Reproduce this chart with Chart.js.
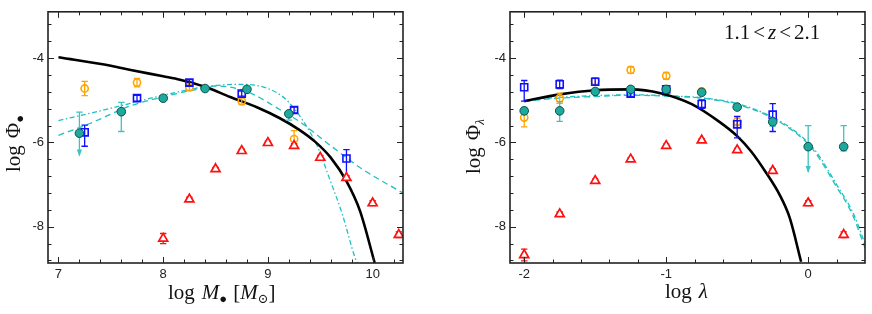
<!DOCTYPE html>
<html><head><meta charset="utf-8">
<script src="https://cdn.jsdelivr.net/npm/chart.js@4.4.1/dist/chart.umd.min.js"></script>
<style>
html,body{margin:0;padding:0;background:#fff;}
#wrap{position:relative;width:872px;height:314px;overflow:hidden;}
.c{position:absolute;top:0;width:436px;height:314px;}
</style></head><body>
<div id="wrap">
<div class="c" style="left:0"><canvas id="cL" width="436" height="314"></canvas></div>
<div class="c" style="left:436px"><canvas id="cR" width="436" height="314"></canvas></div>
</div>
<script>
// ---------- Left panel: black hole mass function ----------
const massXMajor = [7, 8, 9, 10];
const massXMinor = [7.2,7.4,7.6,7.8,8.2,8.4,8.6,8.8,9.2,9.4,9.6,9.8,10.2];
const yMajor = [-8, -6, -4];
const yMinor = [-8.8,-8.4,-7.6,-7.2,-6.8,-6.4,-5.6,-5.2,-4.8,-4.4,-3.6,-3.2];

const massOrangeX = [7.25, 7.75, 8.25, 8.75, 9.25];
const massOrangeY = [-4.72, -4.58, -4.69, -5.02, -5.92];
const massOrangeUp = [0.17, 0.10, 0.08, 0.08, 0.20];
const massOrangeDn = [0.17, 0.10, 0.08, 0.08, 0.12];

const massBlueX = [7.25, 7.75, 8.25, 8.75, 9.25, 9.75];
const massBlueY = [-5.76, -4.95, -4.58, -4.84, -5.23, -6.38];
const massBlueUp = [0.17, 0.07, 0.07, 0.06, 0.07, 0.21];
const massBlueDn = [0.33, 0.07, 0.07, 0.06, 0.07, 0.50];

const massTealX = [7.2, 7.6, 8.0, 8.4, 8.8, 9.2];
const massTealY = [-5.78, -5.27, -4.95, -4.72, -4.74, -5.32];
const massTealUp = [0.50, 0.22, 0.05, 0.04, 0.05, 0.05];
const massTealDn = [0.53, 0.47, 0.05, 0.04, 0.05, 0.15];
const massTealLim = [true, false, false, false, false, false];

const massRedX = [8.0, 8.25, 8.5, 8.75, 9.0, 9.25, 9.5, 9.75, 10.0, 10.25];
const massRedY = [-8.28, -7.35, -6.63, -6.20, -6.01, -6.08, -6.36, -6.84, -7.44, -8.19];
const massRedErr = [0.12, 0.05, 0.04, 0.04, 0.04, 0.05, 0.05, 0.05, 0.06, 0.07];

const massBlackX = [7.0, 7.5, 7.69, 8.0, 8.16, 8.4, 8.64, 8.9, 9.11, 9.3, 9.45, 9.6, 9.75, 9.88, 10.02];
const massBlackY = [-3.98, -4.18, -4.28, -4.43, -4.51, -4.68, -4.92, -5.17, -5.42, -5.70, -5.98, -6.36, -6.92, -7.63, -8.86];

const massDashX = [7.0, 7.3, 7.7, 8.0, 8.3, 8.5, 8.7, 8.86, 9.18, 9.3, 9.59, 9.9, 10.29];
const massDashY = [-5.83, -5.55, -5.12, -4.92, -4.75, -4.66, -4.72, -4.86, -5.32, -5.50, -6.06, -6.63, -7.20];

const massDotX = [7.0, 7.4, 7.8, 8.0, 8.4, 8.7, 9.0, 9.2, 9.47, 9.59, 9.71, 9.83, 9.86];
const massDotY = [-5.48, -5.25, -5.00, -4.88, -4.68, -4.62, -4.72, -5.05, -6.08, -6.87, -7.70, -8.72, -8.90];

// ---------- Right panel: Eddington ratio distribution ----------
const eddXMajor = [-2, -1, 0];
const eddXMinor = [-1.8,-1.6,-1.4,-1.2,-0.8,-0.6,-0.4,-0.2,0.2];

const eddBlueX = [-2, -1.75, -1.5, -1.25, -1.0, -0.75, -0.5, -0.25];
const eddBlueY = [-4.69, -4.62, -4.56, -4.84, -4.74, -5.09, -5.57, -5.34];
const eddBlueUp = [0.16, 0.10, 0.08, 0.08, 0.07, 0.10, 0.19, 0.26];
const eddBlueDn = [0.33, 0.10, 0.08, 0.08, 0.07, 0.10, 0.32, 0.40];

const eddOrangeX = [-2, -1.75, -1.5, -1.25, -1.0, -0.75, -0.5];
const eddOrangeY = [-5.41, -4.95, -4.55, -4.28, -4.42, -4.79, -5.50];
const eddOrangeUp = [0.22, 0.12, 0.08, 0.08, 0.08, 0.06, 0.10];
const eddOrangeDn = [0.22, 0.12, 0.08, 0.08, 0.08, 0.06, 0.10];

const eddTealX = [-2, -1.75, -1.5, -1.25, -1.0, -0.75, -0.5, -0.25, 0, 0.25];
const eddTealY = [-5.25, -5.25, -4.79, -4.74, -4.74, -4.81, -5.16, -5.51, -6.10, -6.10];
const eddTealUp = [0.08, 0.22, 0.04, 0.05, 0.04, 0.05, 0.05, 0.10, 0.50, 0.50];
const eddTealDn = [0.08, 0.25, 0.04, 0.05, 0.04, 0.05, 0.05, 0.10, 0.60, 0.10];
const eddTealLim = [false, false, false, false, false, false, false, false, true, false];

const eddRedX = [-2, -1.75, -1.5, -1.25, -1.0, -0.75, -0.5, -0.25, 0, 0.25];
const eddRedY = [-8.67, -7.70, -6.91, -6.40, -6.08, -5.95, -6.18, -6.67, -7.44, -8.19];
const eddRedErr = [0.14, 0.05, 0.04, 0.04, 0.04, 0.04, 0.04, 0.05, 0.06, 0.07];

const eddBlackX = [-2.0, -1.75, -1.5, -1.25, -1.04, -0.82, -0.63, -0.5, -0.4, -0.3, -0.2, -0.13, -0.05];
const eddBlackY = [-5.02, -4.86, -4.76, -4.74, -4.83, -5.09, -5.50, -5.85, -6.22, -6.70, -7.25, -7.79, -8.83];

const eddDashX = [-2.0, -1.75, -1.5, -1.25, -1.0, -0.75, -0.51, -0.27, -0.06, 0.05, 0.19, 0.31, 0.40];
const eddDashY = [-5.02, -4.95, -4.91, -4.88, -4.90, -4.95, -5.09, -5.39, -5.85, -6.24, -7.00, -7.70, -8.50];
const eddDotX = [-2.0, -1.75, -1.5, -1.25, -1.0, -0.75, -0.51, -0.27, -0.06, 0.06, 0.20, 0.32, 0.40];
const eddDotY = [-5.00, -4.93, -4.89, -4.87, -4.89, -4.94, -5.07, -5.37, -5.82, -6.24, -7.00, -7.70, -8.40];

// ---------- helpers ----------
const pts = (xs, ys) => xs.map((x, i) => ({x, y: ys[i]}));
const COL = {orange:'#FFA500', blue:'#1010FF', red:'#FF1010', teal:'#1FA89C', tealEdge:'#0B4F4A', tealErr:'#3CC4C0', cyan:'#20C0C0'};

function ptSet(xs, ys, kind, up, dn, lim){
  const base = {data: pts(xs, ys), showLine:false, errUp: up, errDn: dn || up, errLim: lim};
  if (kind === 'orange') return Object.assign(base, {pointStyle:'circle', pointRadius:3.6, pointBorderWidth:1.6,
      pointBorderColor:COL.orange, pointBackgroundColor:'rgba(255,255,255,0)', errColor:COL.orange});
  if (kind === 'blue') return Object.assign(base, {pointStyle:'rect', pointRadius:5, pointBorderWidth:1.6,
      pointBorderColor:COL.blue, pointBackgroundColor:'rgba(255,255,255,0)', errColor:COL.blue});
  if (kind === 'teal') return Object.assign(base, {pointStyle:'circle', pointRadius:4.3, pointBorderWidth:1,
      pointBorderColor:COL.tealEdge, pointBackgroundColor:COL.teal, errColor:COL.tealErr});
  return Object.assign(base, {pointStyle:'triangle', pointRadius:5.2, pointBorderWidth:1.7,
      pointBorderColor:COL.red, pointBackgroundColor:'#ffffff', errColor:COL.red});
}
function lineSet(xs, ys, color, width, dash){
  return {data: pts(xs, ys), showLine:true, pointRadius:0, borderColor:color, borderWidth:width,
    borderDash:dash, tension:0.4, cubicInterpolationMode:'monotone', clip:0, fill:false};
}

const errBars = {
  id:'errBars',
  beforeDatasetDraw(chart, args){
    const ds = chart.data.datasets[args.index];
    if (!ds.errUp) return;
    const ctx = chart.ctx, sx = chart.scales.x, sy = chart.scales.y;
    ctx.save();
    ctx.strokeStyle = ds.errColor; ctx.fillStyle = ds.errColor; ctx.lineWidth = 1.3;
    ds.data.forEach((p, i) => {
      const px = sx.getPixelForValue(p.x);
      const yh = sy.getPixelForValue(p.y + ds.errUp[i]);
      const yl = sy.getPixelForValue(p.y - ds.errDn[i]);
      ctx.beginPath(); ctx.moveTo(px, yh); ctx.lineTo(px, yl);
      ctx.moveTo(px - 3.2, yh); ctx.lineTo(px + 3.2, yh);
      if (!(ds.errLim && ds.errLim[i])) { ctx.moveTo(px - 3.2, yl); ctx.lineTo(px + 3.2, yl); }
      ctx.stroke();
      if (ds.errLim && ds.errLim[i]) {
        ctx.beginPath(); ctx.moveTo(px, yl + 1); ctx.lineTo(px - 2.6, yl - 6); ctx.lineTo(px + 2.6, yl - 6); ctx.closePath(); ctx.fill();
      }
    });
    ctx.restore();
  }
};

const frameTicks = {
  id:'frameTicks',
  afterDraw(chart, args, o){
    const {ctx, chartArea:{left, right, top, bottom}} = chart;
    const sx = chart.scales.x, sy = chart.scales.y;
    ctx.save(); ctx.strokeStyle = '#222'; ctx.lineWidth = 1;
    const tx = (v, len) => { const p = Math.round(sx.getPixelForValue(v)) + 0.5;
      ctx.moveTo(p, bottom); ctx.lineTo(p, bottom - len); ctx.moveTo(p, top); ctx.lineTo(p, top + len); };
    const ty = (v, len) => { const p = Math.round(sy.getPixelForValue(v)) + 0.5;
      ctx.moveTo(left, p); ctx.lineTo(left + len, p); ctx.moveTo(right, p); ctx.lineTo(right - len, p); };
    ctx.beginPath();
    o.xMajor.forEach(v => tx(v, 6)); o.xMinor.forEach(v => tx(v, 3.5));
    o.yMajor.forEach(v => ty(v, 6)); o.yMinor.forEach(v => ty(v, 3.5));
    ctx.stroke();
    ctx.lineWidth = 1.6;
    ctx.strokeRect(left, top, right - left, bottom - top);
    ctx.restore();
  }
};

const SERIF = '"Liberation Serif", "DejaVu Serif", serif';
function drawRich(ctx, segs, x, y, size){
  let cx = x;
  ctx.textBaseline = 'alphabetic'; ctx.textAlign = 'left';
  for (const s of segs){
    const fs = s.sub ? size * 0.62 : size;
    ctx.font = (s.it ? 'italic ' : '') + fs + 'px ' + SERIF;
    const dy = s.sub ? size * 0.2 : 0;
    ctx.fillText(s.t, cx, y + dy);
    cx += ctx.measureText(s.t).width + (s.sp || 0);
  }
}
const titles = {
  id:'titles',
  afterDraw(chart, args, o){
    const ctx = chart.ctx;
    ctx.save(); ctx.fillStyle = '#111';
    (o.items || []).forEach(it => {
      ctx.save(); ctx.translate(it.x, it.y);
      if (it.rot) ctx.rotate(-Math.PI / 2);
      drawRich(ctx, it.segs, 0, 0, it.size);
      ctx.restore();
    });
    ctx.restore();
  }
};

function makeChart(id, cfg){
  return new Chart(document.getElementById(id), {
    type:'scatter',
    data:{datasets: cfg.datasets},
    plugins:[errBars, frameTicks, titles],
    options:{
      responsive:false, animation:false, events:[],
      layout:{padding:{left:0, right:cfg.padR, top:5, bottom:0}},
      plugins:{legend:{display:false}, tooltip:{enabled:false},
        frameTicks:{xMajor:cfg.xMajor, xMinor:cfg.xMinor, yMajor:yMajor, yMinor:yMinor},
        titles:{items:cfg.titles}},
      scales:{
        x:{type:'linear', min:cfg.xMin, max:cfg.xMax, grid:{display:false, drawTicks:false, tickLength:0}, border:{display:false},
          afterBuildTicks:s => { s.ticks = cfg.xMajor.map(v => ({value:v})); },
          afterFit:s => { s.height = 51; },
          ticks:{padding:4, color:'#222', autoSkip:false, maxRotation:0,
            font:{family:'"Liberation Sans", Arial, sans-serif', size:13}, callback:v => String(v)}},
        y:{type:'linear', min:-8.86, max:-2.9, grid:{display:false, drawTicks:false, tickLength:0}, border:{display:false},
          afterBuildTicks:s => { s.ticks = yMajor.map(v => ({value:v})); },
          afterFit:s => { s.width = cfg.yW; },
          ticks:{padding:4, color:'#222', autoSkip:false,
            font:{family:'"Liberation Sans", Arial, sans-serif', size:13}, callback:v => String(v)}}
      }
    }
  });
}

makeChart('cL', {
  xMin:6.9, xMax:10.29, xMajor:massXMajor, xMinor:massXMinor, padR:33, yW:48,
  datasets:[
    ptSet(massRedX, massRedY, 'red', massRedErr),
    ptSet(massTealX, massTealY, 'teal', massTealUp, massTealDn, massTealLim),
    ptSet(massBlueX, massBlueY, 'blue', massBlueUp, massBlueDn),
    ptSet(massOrangeX, massOrangeY, 'orange', massOrangeUp, massOrangeDn),
    lineSet(massBlackX, massBlackY, '#000', 2.6, []),
    lineSet(massDashX, massDashY, COL.cyan, 1.3, [6, 4]),
    lineSet(massDotX, massDotY, COL.cyan, 1.3, [5, 2.5, 1.5, 2.5])
  ],
  titles:[
    {x:168, y:299, size:21, segs:[{t:'log', sp:7}, {t:'M', it:true}, {t:'\u25CF', sub:true, sp:6}, {t:'['}, {t:'M', it:true}, {t:'\u2299', sub:true}, {t:']'}]},
    {x:20, y:172, size:21, rot:true, segs:[{t:'log', sp:7}, {t:'\u03A6'}, {t:'\u25CF', sub:true}]}
  ]
});

makeChart('cR', {
  xMin:-2.1, xMax:0.4, xMajor:eddXMajor, xMinor:eddXMinor, padR:7, yW:74,
  datasets:[
    ptSet(eddRedX, eddRedY, 'red', eddRedErr),
    ptSet(eddTealX, eddTealY, 'teal', eddTealUp, eddTealDn, eddTealLim),
    ptSet(eddBlueX, eddBlueY, 'blue', eddBlueUp, eddBlueDn),
    ptSet(eddOrangeX, eddOrangeY, 'orange', eddOrangeUp, eddOrangeDn),
    lineSet(eddBlackX, eddBlackY, '#000', 2.6, []),
    lineSet(eddDashX, eddDashY, COL.cyan, 1.3, [6, 4]),
    lineSet(eddDotX, eddDotY, COL.cyan, 1.3, [5, 2.5, 1.5, 2.5])
  ],
  titles:[
    {x:229, y:298, size:21, segs:[{t:'log', sp:7}, {t:'\u03BB', it:true}]},
    {x:44, y:174, size:21, rot:true, segs:[{t:'log', sp:7}, {t:'\u03A6'}, {t:'\u03BB', it:true, sub:true}]},
    {x:288, y:39, size:21, segs:[{t:'1.1', sp:3}, {t:'<', sp:3}, {t:'z', it:true, sp:3}, {t:'<', sp:3}, {t:'2.1'}]}
  ]
});
</script>
</body></html>
